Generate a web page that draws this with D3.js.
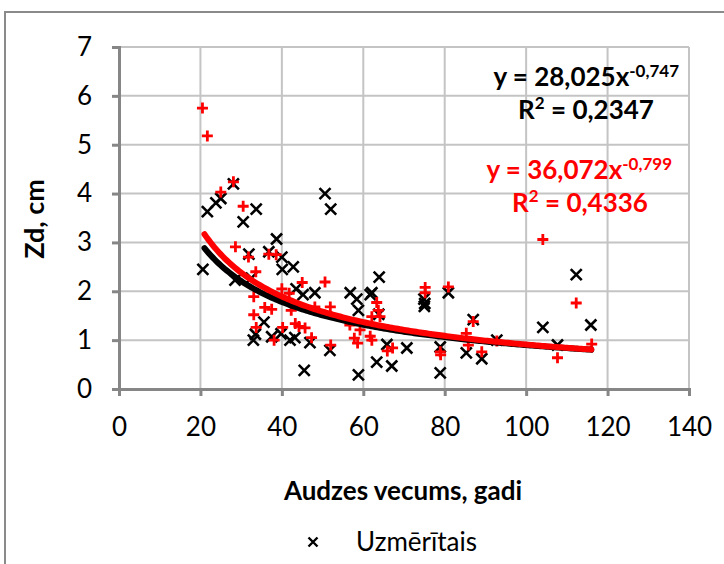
<!DOCTYPE html>
<html>
<head>
<meta charset="utf-8">
<script src="https://cdn.jsdelivr.net/npm/d3@7"></script>
<style>
  html, body { margin: 0; padding: 0; background: #fff; }
  svg { display: block; font-family: Lato, "Open Sans", sans-serif; }
</style>
</head>
<body>
<div id="chart"></div>
<script>
// Measured series (Uzmeritais = black x), second series = red +
const measuredAge = [21.7, 23.8, 25.0, 28.1, 30.5, 33.7, 38.7, 20.6, 28.5, 31.9, 32.5, 36.8, 40.0, 40.1, 42.8,
  43.5, 45.2, 48.1, 35.6, 33.0, 33.5, 37.5, 39.8, 42.0, 43.2, 45.5, 46.9, 50.6, 52.0, 51.8,
  56.8, 58.4, 58.8, 58.8, 61.7, 62.1, 63.9, 63.8, 63.3, 65.8, 67.0, 70.7, 74.9, 75.1, 75.0,
  78.9, 78.9, 80.9, 85.3, 87.0, 89.1, 92.8, 104.1, 107.7, 112.3, 115.9]
const measuredZd = [3.63, 3.81, 3.90, 4.20, 3.42, 3.68, 3.07, 2.45, 2.23, 2.76, 2.27, 2.81, 2.70, 2.45, 2.50,
  2.05, 1.93, 1.97, 1.37, 1.00, 1.12, 1.07, 1.13, 1.00, 1.05, 0.38, 0.95, 4.00, 3.68, 0.79,
  1.97, 1.84, 1.61, 0.29, 1.93, 1.97, 2.29, 1.53, 0.55, 0.91, 0.47, 0.84, 1.84, 1.75, 1.69,
  0.86, 0.33, 1.97, 0.74, 1.42, 0.62, 1.00, 1.26, 0.90, 2.34, 1.31]

const modelAge = [20.5, 21.7, 28.1, 25.0, 30.5, 28.6, 31.8, 36.8, 38.6, 33.6, 45.0, 40.0, 41.8, 33.1, 35.8,
  37.5, 33.1, 42.3, 33.7, 40.2, 43.3, 44.2, 38.1, 45.7, 47.3, 50.6, 51.9, 52.0, 48.1, 56.7,
  57.8, 58.6, 59.2, 61.7, 62.1, 62.1, 63.3, 63.7, 64.1, 65.9, 67.2, 75.2, 75.2, 80.9, 78.9,
  79.0, 85.3, 85.8, 87.0, 89.1, 92.8, 104.1, 107.7, 112.3, 116.1]
const modelZd = [5.75, 5.18, 4.24, 4.03, 3.74, 2.91, 2.70, 2.76, 2.75, 2.40, 2.18, 2.05, 1.96, 1.89, 1.67,
  1.63, 1.52, 1.61, 1.26, 1.26, 1.34, 1.28, 1.00, 1.25, 1.05, 2.19, 1.68, 0.90, 1.68, 1.31,
  1.04, 0.94, 1.21, 1.08, 1.00, 1.48, 1.77, 1.61, 1.48, 0.78, 0.84, 2.08, 1.97, 2.09, 0.76,
  0.70, 1.14, 0.90, 1.38, 0.76, 0.98, 3.06, 0.64, 1.76, 0.92]

// Power trend coefficients y = a * x^b
const trendMeasured = { a: 28.025, b: -0.747 }
const trendModel = { a: 36.072, b: -0.799 }
const trendRange = [21, 116]

const xTicks = [0, 20, 40, 60, 80, 100, 120, 140]
const yTicks = [0, 1, 2, 3, 4, 5, 6, 7]

const W = 724, H = 564
const margin = { top: 47, right: 35, bottom: 175, left: 119 }
const plotW = W - margin.left - margin.right
const plotH = H - margin.top - margin.bottom

const svg = d3.select("#chart").append("svg")
  .attr("width", W)
  .attr("height", H)

// chart border (runs past the picture edge)
svg.append("rect")
  .attr("x", 5).attr("y", 12)
  .attr("width", 760).attr("height", 600)
  .attr("fill", "none")
  .attr("stroke", "#8a8a8a")
  .attr("stroke-width", 2)

const g = svg.append("g")
  .attr("transform", `translate(${margin.left},${margin.top})`)

const x = d3.scaleLinear().domain([0, 140]).range([0, plotW])
const y = d3.scaleLinear().domain([0, 7]).range([plotH, 0])

// grid
g.append("g")
  .selectAll("line")
  .data(yTicks.slice(1))
  .enter().append("line")
  .attr("x1", 0).attr("x2", plotW)
  .attr("y1", d => y(d)).attr("y2", d => y(d))
  .attr("stroke", "#c4c4c4").attr("stroke-width", 2)

g.append("g")
  .selectAll("line")
  .data(xTicks.slice(1))
  .enter().append("line")
  .attr("x1", d => x(d)).attr("x2", d => x(d))
  .attr("y1", 0).attr("y2", plotH)
  .attr("stroke", "#c4c4c4").attr("stroke-width", 2)

// axes
const yAxis = g.append("g")
  .call(d3.axisLeft(y).tickValues(yTicks).tickFormat(d3.format("d")).tickSize(7).tickPadding(20))
const xAxis = g.append("g")
  .attr("transform", `translate(0,${plotH})`)
  .call(d3.axisBottom(x).tickValues(xTicks).tickFormat(d3.format("d")).tickSize(7).tickPadding(22))

;[xAxis, yAxis].forEach(a => {
  a.select(".domain").attr("stroke", "#868686").attr("stroke-width", 3)
  a.selectAll(".tick line").attr("stroke", "#868686").attr("stroke-width", 3)
  a.selectAll(".tick text")
    .attr("fill", "#000")
    .style("font-size", "26px")
    .style("font-family", "Lato, sans-serif")
})

// markers
const xMark = 5.5
g.append("g")
  .selectAll("path")
  .data(d3.zip(measuredAge, measuredZd))
  .enter().append("path")
  .attr("transform", d => `translate(${x(d[0])},${y(d[1])})`)
  .attr("d", `M${-xMark},${-xMark}L${xMark},${xMark}M${-xMark},${xMark}L${xMark},${-xMark}`)
  .attr("stroke", "#000")
  .attr("stroke-width", 2.6)
  .attr("fill", "none")

const pMark = 5.5
g.append("g")
  .selectAll("path")
  .data(d3.zip(modelAge, modelZd))
  .enter().append("path")
  .attr("transform", d => `translate(${x(d[0])},${y(d[1])})`)
  .attr("d", `M${-pMark},0L${pMark},0M0,${-pMark}L0,${pMark}`)
  .attr("stroke", "#ff0000")
  .attr("stroke-width", 2.8)
  .attr("fill", "none")

// trend lines
const trendLine = t => d3.line()
  .x(d => x(d))
  .y(d => y(t.a * Math.pow(d, t.b)))
const ages = d3.range(trendRange[0], trendRange[1] + 0.01, 0.5)

g.append("path")
  .attr("d", trendLine(trendMeasured)(ages))
  .attr("fill", "none")
  .attr("stroke", "#000")
  .attr("stroke-width", 6)
  .attr("stroke-linecap", "round")

g.append("path")
  .attr("d", trendLine(trendModel)(ages))
  .attr("fill", "none")
  .attr("stroke", "#ff0000")
  .attr("stroke-width", 6)
  .attr("stroke-linecap", "round")

// equations
const comma = v => String(v).replace(".", ",")

function equation(t, r2, color, xEnd, yBase, rX, rBase) {
  const txt = svg.append("text")
    .attr("x", xEnd).attr("y", yBase)
    .attr("text-anchor", "end")
    .attr("fill", color)
    .style("font-size", "26px")
    .style("font-weight", "bold")
  txt.append("tspan").text(`y = ${comma(t.a.toFixed(3))}x`)
  txt.append("tspan")
    .attr("dy", -9)
    .style("font-size", "17px")
    .text(comma(t.b))

  const r = svg.append("text")
    .attr("x", rX).attr("y", rBase)
    .attr("text-anchor", "middle")
    .attr("fill", color)
    .style("font-size", "26px")
    .style("font-weight", "bold")
  r.append("tspan").text("R")
  r.append("tspan").attr("dy", -10).style("font-size", "17px").text("2")
  r.append("tspan").attr("dy", 10).text(` = ${r2}`)
}

equation(trendMeasured, "0,2347", "#000", 679, 86, 586, 119)
equation(trendModel, "0,4336", "#ff0000", 672, 179, 580, 212)

// axis titles
svg.append("text")
  .attr("x", 403).attr("y", 500)
  .attr("text-anchor", "middle")
  .style("font-size", "26px")
  .style("font-weight", "bold")
  .text("Audzes vecums, gadi")

svg.append("text")
  .attr("transform", "translate(44,219) rotate(-90)")
  .attr("text-anchor", "middle")
  .style("font-size", "27px")
  .style("font-weight", "bold")
  .text("Zd, cm")

// legend
const legend = svg.append("g").attr("transform", "translate(313,542)")
legend.append("path")
  .attr("d", "M-4.5,-4.5L4.5,4.5M-4.5,4.5L4.5,-4.5")
  .attr("stroke", "#000")
  .attr("stroke-width", 2.4)
legend.append("text")
  .attr("x", 43).attr("y", 9)
  .style("font-size", "26px")
  .text("Uzmērītais")
</script>
</body>
</html>
